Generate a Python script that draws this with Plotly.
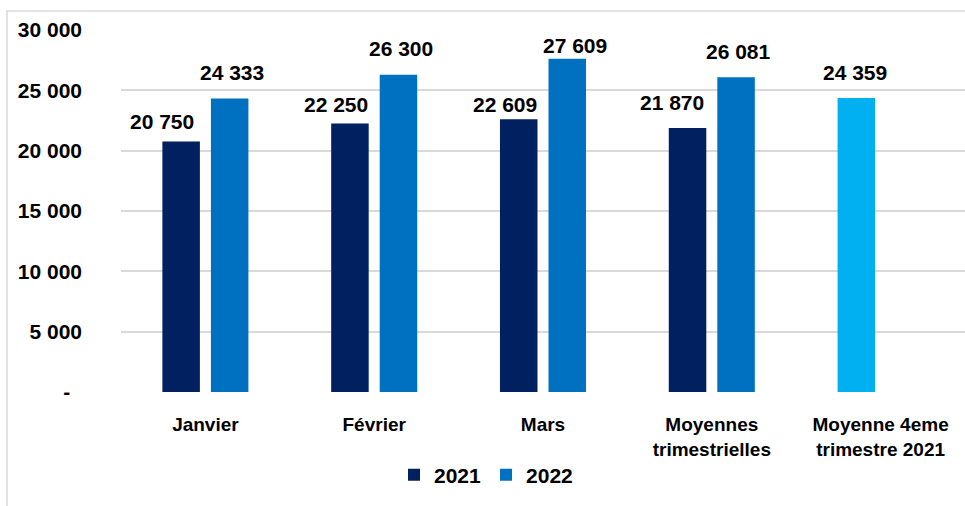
import plotly.graph_objects as go

categories = ["Janvier", "Février", "Mars", "Moyennes<br>trimestrielles", "Moyenne 4eme<br>trimestre 2021"]
values_2021 = [20750, 22250, 22609, 21870, 24359]
values_2022 = [24333, 26300, 27609, 26081, None]
colors_2021 = ["#002060", "#002060", "#002060", "#002060", "#00B0F0"]
ytick_vals = [0, 5000, 10000, 15000, 20000, 25000, 30000]
ytick_text = ["-\u00a0\u00a0", "5 000", "10 000", "15 000", "20 000", "25 000", "30 000"]

# label placement styling (pixels): horizontal nudge and gap above bar top
label_dx_2021 = [-19, -13.5, -13.5, -16, -1]
label_gap_2021 = [13, 12, 7, 18, 18]
label_dx_2022 = [2.5, 2.5, 7.5, 2, 0]
label_gap_2022 = [18, 19, 6, 18, 18]


def fmt(v):
    return "" if v is None else f"{v:,}".replace(",", " ")


FONT = "Liberation Sans"
W, H = 965, 506
L, R, T, B = 121, 0, 30, 114
pw, ph = W - L - R, H - T - B
BARGAP = 0.425
CAT_W = pw / len(categories)
HALF_SLOT = (1 - BARGAP) * CAT_W / 4
DESC = 5  # descent + padding of annotation box below the baseline

fig = go.Figure()
fig.add_trace(go.Bar(
    name="2021", x=categories, y=values_2021,
    marker=dict(color=colors_2021, line=dict(width=0)),
))
fig.add_trace(go.Bar(
    name="2022", x=categories, y=values_2022,
    marker=dict(color="#0070C0", line=dict(width=0)),
))

annotations = []
for vals, side, dxs, gaps in ((values_2021, -1, label_dx_2021, label_gap_2021),
                              (values_2022, 1, label_dx_2022, label_gap_2022)):
    for c, v, dx, g in zip(categories, vals, dxs, gaps):
        if v is None:
            continue
        annotations.append(dict(
            x=c, y=v, xref="x", yref="y", text=fmt(v), showarrow=False,
            xanchor="center", yanchor="bottom",
            xshift=side * HALF_SLOT + dx, yshift=g - DESC,
            font=dict(family=FONT, size=21, color="black", weight="bold"),
            borderpad=0,
        ))

fig.update_layout(
    width=W, height=H,
    margin=dict(l=L, r=R, t=T, b=B, autoexpand=False),
    paper_bgcolor="white", plot_bgcolor="white",
    barmode="group", bargap=BARGAP, bargroupgap=0.227,
    font=dict(family=FONT, color="black", weight="bold"),
    showlegend=True,
    legend=dict(
        orientation="h", x=(486 - L) / pw, xanchor="center",
        y=(T + ph - 475) / ph, yanchor="middle",
        font=dict(family=FONT, size=21, color="black", weight="bold"),
        traceorder="normal",
    ),
    xaxis=dict(
        showgrid=False, showline=False, zeroline=False,
        tickfont=dict(family=FONT, size=19, color="black", weight="bold"),
        ticks="", ticklabelstandoff=19,
    ),
    yaxis=dict(
        range=[0, 30000], tickvals=ytick_vals, ticktext=ytick_text,
        showgrid=True, gridcolor="#d9d9d9", gridwidth=1.5,
        zeroline=False, showline=False, ticks="",
        tickfont=dict(family=FONT, size=21, color="black", weight="bold"),
        ticklabelstandoff=38,
    ),
    annotations=annotations,
    shapes=[
        dict(type="rect", xref="paper", yref="paper",
             x0=(7 - L) / pw, x1=1.05, y0=-0.4, y1=(T + ph - 11) / ph,
             line=dict(color="#d9d9d9", width=1.5), layer="below"),
    ],
)

fig.write_html("out.html", config={"displayModeBar": False},
               post_script="document.body.style.margin='0px';")
